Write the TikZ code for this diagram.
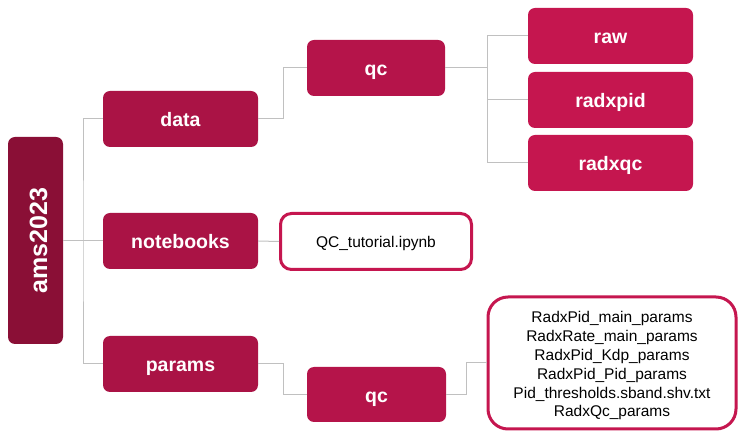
\documentclass[tikz,border=0pt]{standalone}
\usepackage{fontspec}
\setmainfont{Liberation Sans}
\definecolor{cRoot}{HTML}{8A0F36}
\definecolor{cLvlA}{HTML}{AA1345}
\definecolor{cLvlB}{HTML}{B5144A}
\definecolor{cLvlC}{HTML}{C5164F}
\definecolor{cLine}{HTML}{C0C0C0}
\tikzset{
  fbox/.style={rectangle, rounded corners=7pt, draw=none, text=white,
    font=\fontsize{19.5}{22}\selectfont\bfseries, inner sep=0pt,
    text height=16pt, text depth=0pt},
  wbox/.style={rectangle, draw=cLvlC, line width=3pt, fill=white, text=black,
    font=\fontsize{15.5}{18.8}\selectfont, inner sep=0pt, align=center},
  conn/.style={draw=cLine, line width=1pt},
}
\begin{document}
\begin{tikzpicture}[x=1pt,y=-1pt]
\useasboundingbox (0,0) rectangle (745,443);
\node[fbox, fill=cRoot, minimum width=55pt, minimum height=207pt] (root) at (35.5,240.5) {};
\node[text=white, font=\fontsize{25}{28}\selectfont\bfseries, rotate=90, inner sep=0pt,
  text height=23pt, text depth=0pt] (rootlabel) at (root.center) {ams2023};
\node[fbox, fill=cLvlA, minimum width=155pt, minimum height=56pt] (data) at (180.5,119) {data};
\node[fbox, fill=cLvlA, minimum width=155pt, minimum height=56pt] (notebooks) at (180.5,241) {notebooks};
\node[fbox, fill=cLvlA, minimum width=155pt, minimum height=56pt] (params) at (180.5,364) {params};
\node[fbox, fill=cLvlB, minimum width=138pt, minimum height=56pt] (qcA) at (376,68) {qc};
\node[fbox, fill=cLvlB, minimum width=139pt, minimum height=55pt] (qcB) at (376.5,394.5) {qc};
\node[fbox, fill=cLvlC, minimum width=165pt, minimum height=56pt] (raw) at (610.5,36) {raw};
\node[fbox, fill=cLvlC, minimum width=165pt, minimum height=56pt] (radxpid) at (610.5,100) {radxpid};
\node[fbox, fill=cLvlC, minimum width=165pt, minimum height=56pt] (radxqc) at (610.5,163) {radxqc};
\node[wbox, rounded corners=11pt, minimum width=191pt, minimum height=56pt,
  text height=12pt, text depth=0pt] (tut) at (376,241.5) {QC\_tutorial.ipynb};
\node[wbox, rounded corners=20pt, minimum width=248pt, minimum height=132pt] (files) at (612,363)
  {\rule{0pt}{17pt}RadxPid\_main\_params\\RadxRate\_main\_params\\RadxPid\_Kdp\_params\\RadxPid\_Pid\_params\\Pid\_thresholds.sband.shv.txt\\RadxQc\_params};
% connectors
\coordinate (t0) at (83,241);
\draw[conn] (root.east |- t0) -- (notebooks.west);
\draw[conn] (data.west) -| (t0) |- (params.west);
\coordinate (t1) at (283,0);
\draw[conn] (data.east) -- (data.east -| t1) |- (qcA.west);
\coordinate (t2) at (487,0);
\draw[conn] (qcA.east) -- (qcA.east -| t2);
\draw[conn] (raw.west) -- (raw.west -| t2) -- (radxqc.west -| t2) -- (radxqc.west);
\draw[conn] (radxpid.west) -- (radxpid.west -| t2);
\draw[conn] (notebooks.east) -- (tut.west);
\draw[conn] (params.east) -- (params.east -| t1) |- (qcB.west);
\coordinate (t3) at (466,0);
\draw[conn] (qcB.east) -- (qcB.east -| t3) |- (files.west);
\end{tikzpicture}
\end{document}
